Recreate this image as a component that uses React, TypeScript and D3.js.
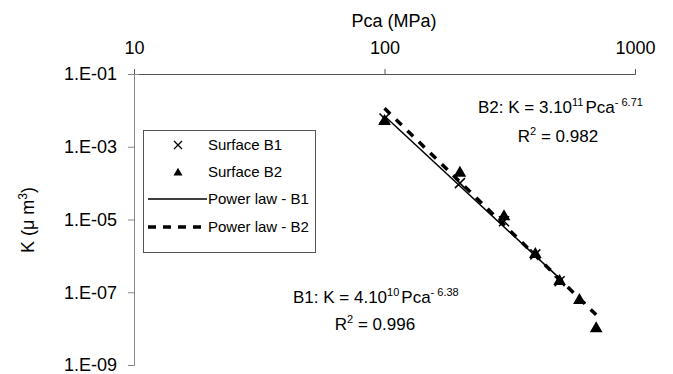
import React, { useEffect, useRef } from 'react';
import * as d3 from 'd3';

const pcaB1 = [100, 200, 300, 400, 500];
const kB1 = [6e-3, 1e-4, 9e-6, 1.1e-6, 2e-7];
const pcaB2 = [100, 200, 300, 400, 500, 600, 700];
const kB2 = [5e-3, 1.9e-4, 1.2e-5, 1.1e-6, 2e-7, 6e-8, 1e-8];
// fitted power laws (straight on log-log), end points
const fitB1 = [[100, 7e-3], [500, 2.4e-7]];
const fitB2 = [[100, 1.14e-2], [700, 2.4e-8]];
const xTicks = [10, 100, 1000];
const yTicks = [1e-1, 1e-3, 1e-5, 1e-7, 1e-9];
const yTickLabels = ['1.E-01', '1.E-03', '1.E-05', '1.E-07', '1.E-09'];

const W = 673, H = 374;
const FONT = '"Liberation Sans", Arial, sans-serif';

export default function App() {
  const ref = useRef<SVGSVGElement>(null);

  useEffect(() => {
    const svg = d3.select(ref.current);
    svg.selectAll('*').remove();

    const x = d3.scaleLog().domain([10, 1000]).range([134, 635]);
    const y = d3.scaleLog().domain([1e-9, 1e-1]).range([365, 74]);

    const g = svg.append('g').style('font-family', FONT);

    // top x axis
    const xAxis = g.append('g').attr('transform', 'translate(0,' + y(1e-1) + ')')
      .call(d3.axisTop(x).tickValues(xTicks).tickSize(5).tickPadding(15).tickFormat(d3.format('d')));
    xAxis.select('.domain').attr('stroke', '#555');
    xAxis.selectAll('.tick line').attr('stroke', '#555');
    xAxis.selectAll('text').attr('font-size', 18).attr('fill', '#000').attr('font-family', FONT);

    // left y axis
    const yAxis = g.append('g').attr('transform', 'translate(' + x(10) + ',0)')
      .call(d3.axisLeft(y).tickValues(yTicks).tickSize(6).tickPadding(11)
        .tickFormat((d, i) => yTickLabels[i]));
    yAxis.select('.domain').attr('stroke', '#888');
    yAxis.selectAll('.tick line').attr('stroke', '#888');
    yAxis.selectAll('text').attr('font-size', 18).attr('fill', '#000').attr('font-family', FONT);
    // small cross at the corner tick
    yAxis.select('.tick line').attr('x1', 5);

    // axis titles
    g.append('text').attr('x', 394).attr('y', 27).attr('text-anchor', 'middle')
      .attr('font-size', 18).text('Pca (MPa)');
    const yt = g.append('text').attr('transform', 'translate(34,220) rotate(-90)')
      .attr('text-anchor', 'middle').attr('font-size', 18);
    yt.append('tspan').text('K (\u03bc m');
    yt.append('tspan').attr('font-size', 12).attr('dy', -7).text('3');
    yt.append('tspan').attr('dy', 7).text(')');

    const line = d3.line<number[]>().x(d => x(d[0])).y(d => y(d[1]));

    // fit lines
    g.append('path').attr('d', line(fitB1)).attr('fill', 'none')
      .attr('stroke', '#000').attr('stroke-width', 1.5);
    g.append('path').attr('d', line(fitB2)).attr('fill', 'none')
      .attr('stroke', '#000').attr('stroke-width', 3.5).attr('stroke-dasharray', '8,8');

    // markers
    const tri = d3.symbol().type(d3.symbolTriangle).size(70);
    g.selectAll('.b2').data(pcaB2).enter().append('path')
      .attr('transform', (d, i) => 'translate(' + x(d) + ',' + y(kB2[i]) + ')')
      .attr('d', tri()).attr('fill', '#000');
    const cross = 'M-5,-5L5,5M-5,5L5,-5';
    g.selectAll('.b1').data(pcaB1).enter().append('path')
      .attr('transform', (d, i) => 'translate(' + x(d) + ',' + y(kB1[i]) + ')')
      .attr('d', cross).attr('stroke', '#000').attr('stroke-width', 1.5).attr('fill', 'none');

    // legend
    const lg = g.append('g');
    lg.append('rect').attr('x', 143.5).attr('y', 130.5).attr('width', 172).attr('height', 122)
      .attr('fill', '#fff').attr('stroke', '#555');
    const rows = [145, 172, 199, 227];
    const names = ['Surface B1', 'Surface B2', 'Power law - B1', 'Power law - B2'];
    lg.append('path').attr('transform', 'translate(178,' + rows[0] + ')')
      .attr('d', 'M-4,-4L4,4M-4,4L4,-4').attr('stroke', '#000').attr('stroke-width', 1.3);
    lg.append('path').attr('transform', 'translate(178,' + (rows[1] + 1) + ')')
      .attr('d', d3.symbol().type(d3.symbolTriangle).size(35)()).attr('fill', '#000');
    lg.append('line').attr('x1', 148).attr('x2', 207).attr('y1', rows[2]).attr('y2', rows[2])
      .attr('stroke', '#000').attr('stroke-width', 1.5);
    lg.append('line').attr('x1', 148).attr('x2', 207).attr('y1', rows[3]).attr('y2', rows[3])
      .attr('stroke', '#000').attr('stroke-width', 3.5).attr('stroke-dasharray', '8,7');
    names.forEach((n, i) => {
      lg.append('text').attr('x', 208).attr('y', rows[i]).attr('dy', '0.35em')
        .attr('font-size', 15).text(n);
    });

    // equations
    const eq = (xx: number, yy: number, a: string, e1: string, e2: string, r2: string, rx: number, ry: number) => {
      const t = g.append('text').attr('x', xx).attr('y', yy).attr('font-size', 17);
      t.append('tspan').text(a);
      t.append('tspan').attr('font-size', 11).attr('dy', -7).text(e1);
      t.append('tspan').attr('dy', 7).attr('dx', 2).text('Pca');
      t.append('tspan').attr('font-size', 11).attr('dy', -7).text(e2);
      const r = g.append('text').attr('x', rx).attr('y', ry).attr('font-size', 17)
        .attr('text-anchor', 'middle');
      r.append('tspan').text('R');
      r.append('tspan').attr('font-size', 11).attr('dy', -7).text('2');
      r.append('tspan').attr('dy', 7).text(' = ' + r2);
    };
    eq(478, 113, 'B2: K = 3.10', '11', '- 6.71', '0.982', 558, 142);
    eq(293, 303, 'B1: K = 4.10', '10', '- 6.38', '0.996', 375, 330);
  }, []);

  return (
    <div style={{ position: 'absolute', left: 0, top: 0 }}>
      <svg ref={ref} width={W} height={H} style={{ display: 'block', background: '#fff' }} />
    </div>
  );
}
